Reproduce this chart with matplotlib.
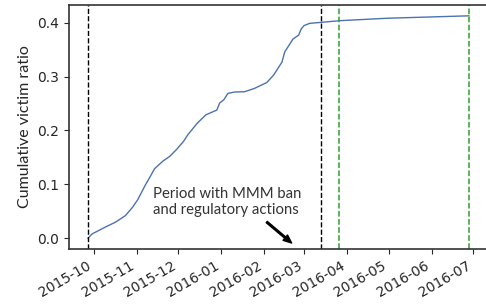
import matplotlib
matplotlib.use("Agg")
import matplotlib.pyplot as plt
import matplotlib.dates as mdates
import pandas as pd

# Data
dates = ["2015-09-27", "2015-09-30", "2015-10-09", "2015-10-17", "2015-10-24",
         "2015-10-29", "2015-11-02", "2015-11-07", "2015-11-11", "2015-11-14",
         "2015-11-20", "2015-11-25", "2015-11-30", "2015-12-05", "2015-12-08",
         "2015-12-15", "2015-12-21", "2015-12-29", "2015-12-31", "2016-01-03",
         "2016-01-06", "2016-01-11", "2016-01-18", "2016-01-25", "2016-02-03",
         "2016-02-08", "2016-02-14", "2016-02-16", "2016-02-22", "2016-02-26",
         "2016-02-28", "2016-03-01", "2016-03-05", "2016-03-12", "2016-03-27",
         "2016-04-30", "2016-06-28"]
ratio = [0.000, 0.008, 0.020, 0.030, 0.042,
         0.057, 0.072, 0.097, 0.115, 0.129,
         0.143, 0.152, 0.165, 0.180, 0.192,
         0.214, 0.229, 0.238, 0.251, 0.257,
         0.269, 0.2715, 0.272, 0.278, 0.289,
         0.303, 0.327, 0.346, 0.370, 0.377,
         0.389, 0.395, 0.399, 0.4006, 0.404,
         0.4085, 0.413]
black_lines = ["2015-09-27", "2016-03-13"]
green_lines = ["2016-03-26", "2016-06-28"]
annotation_text = "Period with MMM ban\nand regulatory actions"
text_pos = ("2015-11-13", 0.095)
arrow_start = ("2016-02-03", 0.030)
arrow_tip = ("2016-02-21", -0.009)

x = pd.to_datetime(dates)

fig = plt.figure(figsize=(4.86, 3.05), dpi=100)
ax = fig.add_axes([69/486, 1 - 249.3/305, (488 - 69)/486, (249.3 - 4.7)/305])

ax.plot(x, ratio, color="#4c72b0", lw=1.0)
for d in black_lines:
    ax.axvline(pd.Timestamp(d), color="black", ls="--", lw=1.0)
for d in green_lines:
    ax.axvline(pd.Timestamp(d), color="#2ca02c", ls="--", lw=1.1)

ax.text(pd.Timestamp(text_pos[0]), text_pos[1], annotation_text,
        family="Lato", fontsize=10.7, color="#333333", va="top", ha="left",
        linespacing=1.15)
ax.annotate("", xy=(pd.Timestamp(arrow_tip[0]), arrow_tip[1]),
            xytext=(pd.Timestamp(arrow_start[0]), arrow_start[1]),
            arrowprops=dict(facecolor="black", edgecolor="black", width=1.2,
                            headwidth=5, headlength=6, shrink=0))

ax.xaxis.set_major_locator(mdates.MonthLocator())
ax.xaxis.set_major_formatter(mdates.DateFormatter("%Y-%m"))
ax.set_yticks([0.0, 0.1, 0.2, 0.3, 0.4])
for lab in ax.get_xticklabels():
    lab.set_rotation(30)
    lab.set_ha("right")
ax.tick_params(colors="#262626", labelsize=10, length=3.5)
ax.set_ylabel("Cumulative victim ratio", family="Lato", fontsize=11.5, color="#262626")
for s in ax.spines.values():
    s.set_color("#333333")
    s.set_linewidth(1.2)

fig.savefig("out.png", dpi=100)
